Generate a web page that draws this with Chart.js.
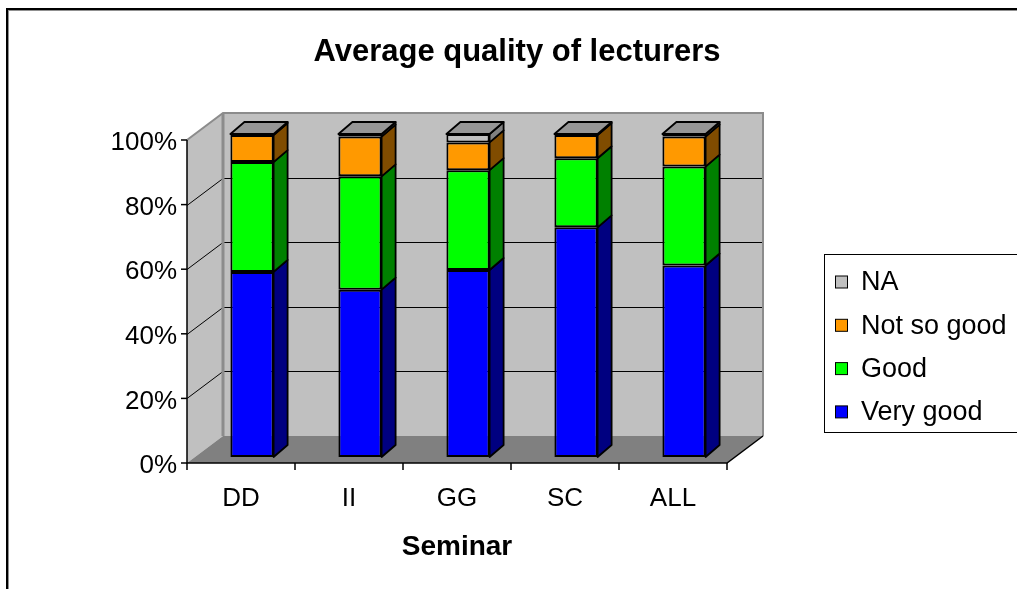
<!DOCTYPE html>
<html>
<head>
<meta charset="utf-8">
<title>Average quality of lecturers</title>
<script src="https://cdn.jsdelivr.net/npm/chart.js@4.4.1/dist/chart.umd.min.js"></script>
<style>
  html, body { margin: 0; padding: 0; background: #ffffff; }
  canvas { display: block; }
</style>
</head>
<body>
<canvas id="chart" width="1017" height="589"></canvas>
<script>
// Seminar results, share of answers in percent (bottom to top of each stack)
const seminars  = ['DD', 'II', 'GG', 'SC', 'ALL'];
const veryGood  = [57.3, 51.8, 57.9, 71.1, 59.3];
const good      = [34.0, 35.1, 30.9, 21.4, 30.6];
const notSoGood = [8.4, 12.3, 8.6, 7.2, 9.3];
const notAnswered = [0.3, 0.8, 2.6, 0.3, 0.8];
const yTicks    = [0, 20, 40, 60, 80, 100];

const seriesNames = ['Very good', 'Good', 'Not so good', 'NA'];
const frontColors = ['#0000ff', '#00ff00', '#ff9900', '#c0c0c0'];
const sideColors  = ['#000080', '#008000', '#804c00', '#808080'];
const topColor    = '#969696';

const FONT = '"Liberation Sans", Arial, Helvetica, sans-serif';

// 3D look: wall depth, bar offset inside the box, bar depth
const WALL_DX = 36, WALL_DY = 27;
const BAR_SHIFT_X = 11, BAR_SHIFT_Y = 6;
const BAR_DX = 14, BAR_DY = 12;

function poly(ctx, pts) {
  ctx.beginPath();
  ctx.moveTo(pts[0][0], pts[0][1]);
  for (let i = 1; i < pts.length; i++) ctx.lineTo(pts[i][0], pts[i][1]);
  ctx.closePath();
}
function line(ctx, pts) {
  ctx.beginPath();
  ctx.moveTo(pts[0][0], pts[0][1]);
  for (let i = 1; i < pts.length; i++) ctx.lineTo(pts[i][0], pts[i][1]);
  ctx.stroke();
}

const scene3d = {
  id: 'scene3d',
  beforeDraw(chart) {
    const ctx = chart.ctx;
    ctx.save();
    ctx.fillStyle = '#ffffff';
    ctx.fillRect(0, 0, chart.width, chart.height);
    // outer frame
    ctx.strokeStyle = '#000000';
    ctx.lineWidth = 2;
    ctx.strokeRect(7, 9, chart.width + 20, chart.height + 20);
    ctx.strokeStyle = '#909090';
    ctx.lineWidth = 1;
    ctx.strokeRect(8.5, 10.5, chart.width + 20, chart.height + 20);
    ctx.restore();
  },
  beforeDatasetsDraw(chart) {
    const ctx = chart.ctx;
    const x = chart.scales.x, y = chart.scales.y;
    const L = chart.chartArea.left, R = chart.chartArea.right;
    const T = y.getPixelForValue(100), B = y.getPixelForValue(0);
    ctx.save();
    // side wall
    ctx.fillStyle = '#c0c0c0';
    poly(ctx, [[L, B], [L, T], [L + WALL_DX, T - WALL_DY], [L + WALL_DX, B - WALL_DY]]);
    ctx.fill();
    // back wall
    ctx.fillRect(L + WALL_DX, T - WALL_DY, R - L, B - T);
    // floor
    ctx.fillStyle = '#808080';
    poly(ctx, [[L, B], [R, B], [R + WALL_DX, B - WALL_DY], [L + WALL_DX, B - WALL_DY]]);
    ctx.fill();
    // gridlines
    ctx.strokeStyle = '#000000';
    ctx.lineWidth = 1;
    yTicks.forEach(v => {
      if (v <= 0 || v >= 100) return;
      const py = Math.round(y.getPixelForValue(v)) + 0.5;
      line(ctx, [[L, py], [L + WALL_DX, py - WALL_DY], [R + WALL_DX, py - WALL_DY]]);
    });
    // wall edges
    ctx.strokeStyle = '#8c8c8c';
    ctx.lineWidth = 2;
    line(ctx, [[L, T], [L + WALL_DX, T - WALL_DY], [R + WALL_DX, T - WALL_DY], [R + WALL_DX, B - WALL_DY]]);
    ctx.lineWidth = 3;
    line(ctx, [[L + WALL_DX, T - WALL_DY], [L + WALL_DX, B - WALL_DY]]);
    // axes
    ctx.strokeStyle = '#000000';
    ctx.lineWidth = 1.5;
    line(ctx, [[L, T], [L, B], [R, B], [R + WALL_DX, B - WALL_DY]]);
    yTicks.forEach(v => {
      const py = y.getPixelForValue(v);
      line(ctx, [[L - 6, py], [L, py]]);
    });
    const n = seminars.length;
    for (let i = 0; i <= n; i++) {
      let px;
      if (i === 0) px = L;
      else if (i === n) px = R;
      else px = (x.getPixelForValue(i - 1) + x.getPixelForValue(i)) / 2;
      line(ctx, [[px, B], [px, B + 7]]);
    }
    ctx.restore();
    // bars sit a little behind the front edge of the floor
    ctx.save();
    ctx.translate(BAR_SHIFT_X, -BAR_SHIFT_Y);
  },
  afterDatasetsDraw(chart) {
    const ctx = chart.ctx;
    const count = chart.data.datasets.length;
    ctx.lineWidth = 1.8;
    ctx.strokeStyle = '#000000';
    ctx.lineJoin = 'round';
    for (let d = 0; d < count; d++) {
      const meta = chart.getDatasetMeta(d);
      meta.data.forEach((bar, i) => {
        const p = bar.getProps(['x', 'y', 'base', 'width'], true);
        const left = p.x - p.width / 2, right = p.x + p.width / 2;
        const top = Math.min(p.y, p.base), bottom = Math.max(p.y, p.base);
        ctx.fillStyle = sideColors[d];
        poly(ctx, [[right, bottom], [right, top], [right + BAR_DX, top - BAR_DY], [right + BAR_DX, bottom - BAR_DY]]);
        ctx.fill();
        ctx.stroke();
        if (d === count - 1) {
          ctx.fillStyle = topColor;
          poly(ctx, [[left, top], [left + BAR_DX, top - BAR_DY], [right + BAR_DX, top - BAR_DY], [right, top]]);
          ctx.fill();
          ctx.stroke();
        }
      });
    }
    ctx.restore();
  },
  afterDraw(chart) {
    const ctx = chart.ctx;
    const x = chart.scales.x, y = chart.scales.y;
    const L = chart.chartArea.left, R = chart.chartArea.right;
    const B = y.getPixelForValue(0);
    ctx.save();
    ctx.fillStyle = '#000000';
    // title
    ctx.font = 'bold 31px ' + FONT;
    ctx.textAlign = 'center';
    ctx.textBaseline = 'middle';
    ctx.fillText('Average quality of lecturers', 517, 52);
    // y tick labels
    ctx.font = '26px ' + FONT;
    ctx.textAlign = 'right';
    yTicks.forEach(v => ctx.fillText(v + '%', L - 10, y.getPixelForValue(v) + 3));
    // category labels
    ctx.textAlign = 'center';
    seminars.forEach((s, i) => ctx.fillText(s, x.getPixelForValue(i), B + 36));
    // axis title
    ctx.font = 'bold 28px ' + FONT;
    ctx.fillText('Seminar', (L + R) / 2, B + 84);
    // legend
    const lx = 824, ly = 254;
    ctx.strokeStyle = '#000000';
    ctx.lineWidth = 1;
    ctx.strokeRect(lx + 0.5, ly + 0.5, 220, 178);
    ctx.font = '27px ' + FONT;
    ctx.textAlign = 'left';
    const ds = chart.data.datasets;
    for (let k = 0; k < ds.length; k++) {
      const d = ds[ds.length - 1 - k];
      const cy = 282 + k * 43.3;
      ctx.fillStyle = d.backgroundColor;
      ctx.fillRect(835.5, cy - 6, 12, 12);
      ctx.strokeRect(835.5, cy - 6, 12, 12);
      ctx.fillStyle = '#000000';
      ctx.fillText(d.label, 861, cy + 1);
    }
    ctx.restore();
  }
};

const seriesValues = [veryGood, good, notSoGood, notAnswered];

new Chart(document.getElementById('chart'), {
  type: 'bar',
  data: {
    labels: seminars,
    datasets: seriesValues.map((vals, k) => ({
      label: seriesNames[k],
      data: vals,
      backgroundColor: frontColors[k],
      borderColor: '#000000',
      borderWidth: 2,
      borderSkipped: false,
      barPercentage: 0.4,
      categoryPercentage: 1.0,
      clip: false
    }))
  },
  options: {
    responsive: false,
    animation: false,
    devicePixelRatio: 1,
    layout: { padding: { left: 187, right: 290, top: 140, bottom: 126 } },
    plugins: { legend: { display: false }, title: { display: false }, tooltip: { enabled: false } },
    scales: {
      x: { stacked: true, display: false, offset: true },
      y: { stacked: true, display: false, min: 0, max: 100 }
    }
  },
  plugins: [scene3d]
});
</script>
</body>
</html>
